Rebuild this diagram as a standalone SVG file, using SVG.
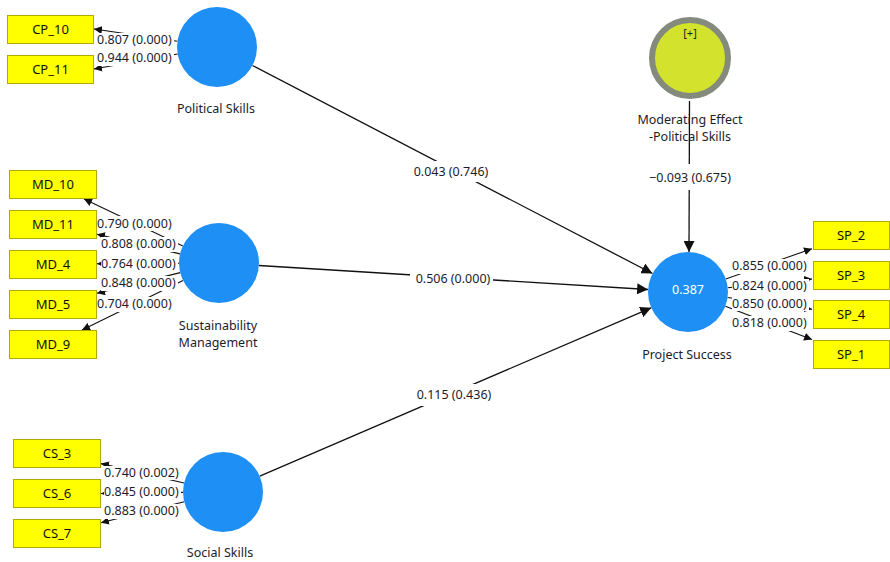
<svg xmlns="http://www.w3.org/2000/svg" width="890" height="562" viewBox="0 0 890 562">
<defs>
<style>
.bg{fill:#ffffff}
.lv{fill:#1e8ff5}
.mod{fill:#d3e22c;stroke:#848b7c;stroke-width:6}
.ind{fill:#ffff00;stroke:#b5a800;stroke-width:1}
.ind-t{font-family:"Noto Sans","Open Sans",sans-serif;font-size:13px;fill:#111;text-anchor:middle}
.lbl{font-family:"Noto Sans","Open Sans",sans-serif;font-size:12.5px;fill:#1c1c2c;text-anchor:middle}
.val{font-family:"Noto Sans","Open Sans",sans-serif;font-size:12.5px;fill:#1c1c2c}
.vm{text-anchor:middle}
.mask{fill:#ffffff}
.r2{font-family:"Noto Sans","Open Sans",sans-serif;font-size:12.5px;fill:#ffffff;text-anchor:middle}
.path{stroke:#111;stroke-width:1.3;fill:none;marker-end:url(#ah)}
.load{stroke:#111;stroke-width:1.1;fill:none;marker-end:url(#sh)}
</style>
<marker id="ah" viewBox="0 0 10 10" refX="10" refY="5" markerWidth="11" markerHeight="11" markerUnits="userSpaceOnUse" orient="auto"><path d="M0,0 L10,5 L0,10 z" fill="#111"/></marker>
<marker id="sh" viewBox="0 0 10 10" refX="10" refY="5" markerWidth="8" markerHeight="8" markerUnits="userSpaceOnUse" orient="auto"><path d="M0,0 L10,5 L0,10 z" fill="#111"/></marker>
</defs>
<rect class="bg" x="0" y="0" width="890" height="562"/>

<g id="connectors">
<line class="path" x1="252.5" y1="65.5" x2="652.5" y2="273.5"/>
<line class="path" x1="258.9" y1="265.5" x2="648.1" y2="289.5"/>
<line class="path" x1="259.8" y1="476.2" x2="651.2" y2="307.8"/>
<line class="path" x1="689.5" y1="101" x2="689" y2="252"/>
<line class="load" x1="177.4" y1="41.3" x2="94" y2="29"/>
<line class="load" x1="177.6" y1="54" x2="94" y2="69"/>
<line class="load" x1="182.8" y1="245.9" x2="84" y2="199"/>
<line class="load" x1="180" y1="253.9" x2="97" y2="234.2"/>
<line class="load" x1="179" y1="263.2" x2="97" y2="263.7"/>
<line class="load" x1="180.2" y1="272.6" x2="97" y2="293.3"/>
<line class="load" x1="183" y1="280.5" x2="82" y2="330"/>
<line class="load" x1="184" y1="483" x2="101" y2="463.6"/>
<line class="load" x1="183" y1="492.4" x2="101" y2="493.5"/>
<line class="load" x1="184.2" y1="501.7" x2="101" y2="522.7"/>
<line class="load" x1="725.8" y1="278.9" x2="812" y2="248.7"/>
<line class="load" x1="727.8" y1="287.8" x2="812" y2="279"/>
<line class="load" x1="727.6" y1="297.5" x2="812" y2="309.3"/>
<line class="load" x1="725.4" y1="306.2" x2="812" y2="339.6"/>

<rect class="mask" x="412" y="161" width="78" height="21"/>
<rect class="mask" x="410" y="270" width="83" height="17"/>
<rect class="mask" x="414" y="384" width="80" height="22"/>
<rect class="mask" x="651" y="164" width="78" height="26"/>
<rect class="mask" x="97" y="33" width="77" height="15"/>
<rect class="mask" x="97" y="51" width="77" height="15"/>
<rect class="mask" x="98" y="216" width="77" height="15"/>
<rect class="mask" x="101" y="237" width="77" height="15"/>
<rect class="mask" x="101" y="257" width="77" height="14"/>
<rect class="mask" x="101" y="276" width="77" height="15"/>
<rect class="mask" x="98" y="297" width="77" height="15"/>
<rect class="mask" x="104" y="466" width="77" height="14"/>
<rect class="mask" x="104" y="485" width="77" height="14"/>
<rect class="mask" x="104" y="504" width="77" height="15"/>
<rect class="mask" x="732" y="259" width="77" height="15"/>
<rect class="mask" x="732" y="279" width="77" height="14"/>
<rect class="mask" x="732" y="297" width="77" height="14"/>
<rect class="mask" x="732" y="316" width="77" height="15"/>

<text class="val vm" x="451" y="176">0.043 (0.746)</text>
<text class="val vm" x="453" y="283">0.506 (0.000)</text>
<text class="val vm" x="454" y="399">0.115 (0.436)</text>
<text class="val vm" x="690" y="182">−0.093 (0.675)</text>
<text class="val" x="97" y="44">0.807 (0.000)</text>
<text class="val" x="97" y="62">0.944 (0.000)</text>
<text class="val" x="97" y="228">0.790 (0.000)</text>
<text class="val" x="101" y="248">0.808 (0.000)</text>
<text class="val" x="101" y="268">0.764 (0.000)</text>
<text class="val" x="101" y="287">0.848 (0.000)</text>
<text class="val" x="97" y="308">0.704 (0.000)</text>
<text class="val" x="104" y="477">0.740 (0.002)</text>
<text class="val" x="104" y="496">0.845 (0.000)</text>
<text class="val" x="104" y="515">0.883 (0.000)</text>
<text class="val" x="732" y="270">0.855 (0.000)</text>
<text class="val" x="732" y="290">0.824 (0.000)</text>
<text class="val" x="732" y="308">0.850 (0.000)</text>
<text class="val" x="732" y="327">0.818 (0.000)</text>
</g>

<g id="political-skills">
<circle class="lv" cx="217" cy="47" r="40"/>
<text class="lbl" x="216" y="113">Political Skills</text>
</g>
<g id="sustainability-management">
<circle class="lv" cx="219" cy="263" r="40"/>
<text class="lbl" x="218" y="330">Sustainability</text>
<text class="lbl" x="218" y="347">Management</text>
</g>
<g id="social-skills">
<circle class="lv" cx="223" cy="492" r="40"/>
<text class="lbl" x="220" y="557">Social Skills</text>
</g>
<g id="project-success">
<circle class="lv" cx="688" cy="292" r="40"/>
<text class="r2" x="688" y="294">0.387</text>
<text class="lbl" x="687" y="359">Project Success</text>
</g>
<g id="moderating-effect">
<circle class="mod" cx="690" cy="58" r="38"/>
<text class="lbl" x="690" y="37" style="font-size:11px">[+]</text>
<text class="lbl" x="690" y="124">Moderating Effect</text>
<text class="lbl" x="690" y="141">-Political Skills</text>
</g>

<g id="CP_10"><rect class="ind" x="7.5" y="15.5" width="86" height="28"/><text class="ind-t" x="50.5" y="34">CP_10</text></g>
<g id="CP_11"><rect class="ind" x="7.5" y="55.5" width="86" height="28"/><text class="ind-t" x="50.5" y="74">CP_11</text></g>
<g id="MD_10"><rect class="ind" x="9.5" y="170.5" width="87" height="28"/><text class="ind-t" x="53" y="189">MD_10</text></g>
<g id="MD_11"><rect class="ind" x="9.5" y="210.5" width="87" height="28"/><text class="ind-t" x="53" y="229">MD_11</text></g>
<g id="MD_4"><rect class="ind" x="9.5" y="250.5" width="87" height="28"/><text class="ind-t" x="53" y="269">MD_4</text></g>
<g id="MD_5"><rect class="ind" x="9.5" y="290.5" width="87" height="28"/><text class="ind-t" x="53" y="309">MD_5</text></g>
<g id="MD_9"><rect class="ind" x="9.5" y="330.5" width="87" height="28"/><text class="ind-t" x="53" y="349">MD_9</text></g>
<g id="CS_3"><rect class="ind" x="13.5" y="439.5" width="87" height="28"/><text class="ind-t" x="57" y="458">CS_3</text></g>
<g id="CS_6"><rect class="ind" x="13.5" y="479.5" width="87" height="28"/><text class="ind-t" x="57" y="498">CS_6</text></g>
<g id="CS_7"><rect class="ind" x="13.5" y="519.5" width="87" height="28"/><text class="ind-t" x="57" y="538">CS_7</text></g>
<g id="SP_2"><rect class="ind" x="813.5" y="221.5" width="76" height="28"/><text class="ind-t" x="851" y="240">SP_2</text></g>
<g id="SP_3"><rect class="ind" x="813.5" y="261.5" width="76" height="28"/><text class="ind-t" x="851" y="280">SP_3</text></g>
<g id="SP_4"><rect class="ind" x="813.5" y="300.5" width="76" height="28"/><text class="ind-t" x="851" y="319">SP_4</text></g>
<g id="SP_1"><rect class="ind" x="813.5" y="340.5" width="76" height="28"/><text class="ind-t" x="851" y="359">SP_1</text></g>
</svg>
